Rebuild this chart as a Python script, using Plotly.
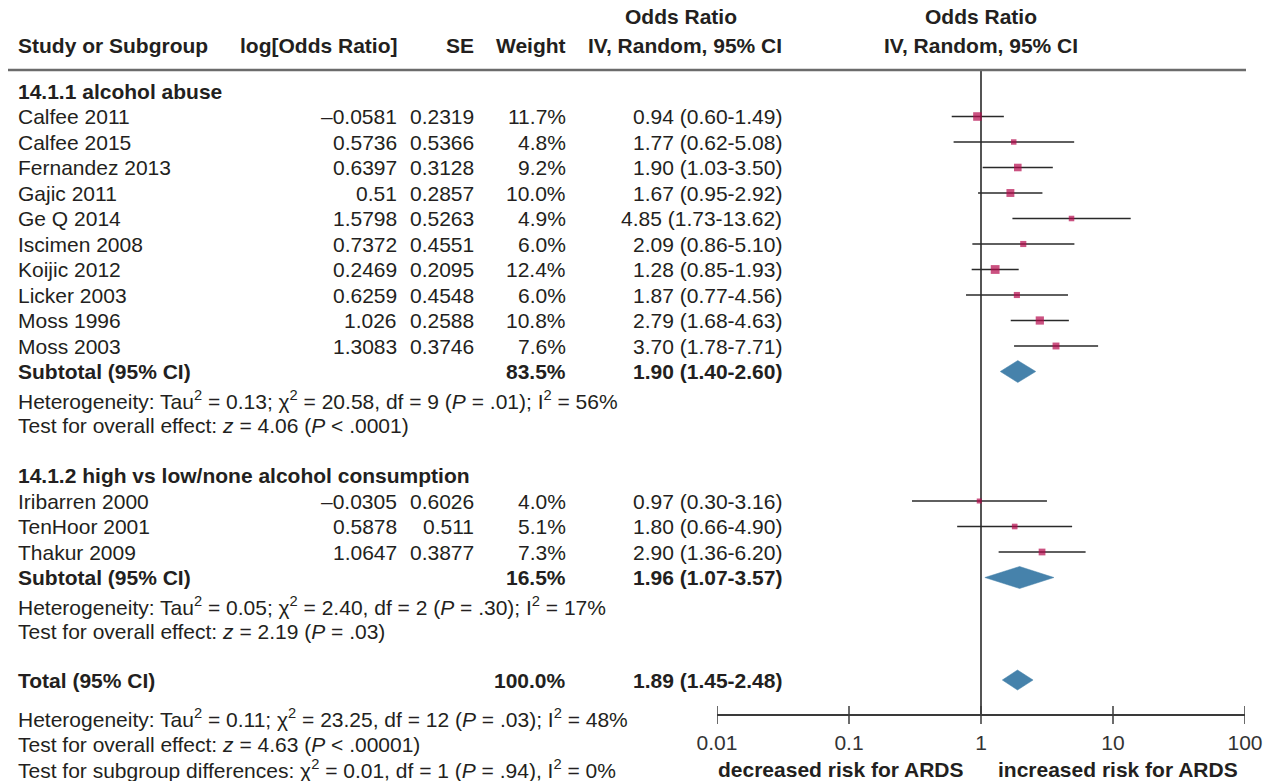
import plotly.graph_objects as go

W, H = 1264, 781

# ---------------- data ----------------
studies1 = ["Calfee 2011", "Calfee 2015", "Fernandez 2013", "Gajic 2011", "Ge Q 2014",
            "Iscimen 2008", "Koijic 2012", "Licker 2003", "Moss 1996", "Moss 2003"]
log_or1 = [-0.0581, 0.5736, 0.6397, 0.51, 1.5798, 0.7372, 0.2469, 0.6259, 1.026, 1.3083]
se1 = [0.2319, 0.5366, 0.3128, 0.2857, 0.5263, 0.4551, 0.2095, 0.4548, 0.2588, 0.3746]
weight1 = [11.7, 4.8, 9.2, 10.0, 4.9, 6.0, 12.4, 6.0, 10.8, 7.6]
or1 = [0.94, 1.77, 1.90, 1.67, 4.85, 2.09, 1.28, 1.87, 2.79, 3.70]
lo1 = [0.60, 0.62, 1.03, 0.95, 1.73, 0.86, 0.85, 0.77, 1.68, 1.78]
hi1 = [1.49, 5.08, 3.50, 2.92, 13.62, 5.10, 1.93, 4.56, 4.63, 7.71]
sub1 = dict(weight=83.5, est=1.90, lo=1.40, hi=2.60)

studies2 = ["Iribarren 2000", "TenHoor 2001", "Thakur 2009"]
log_or2 = [-0.0305, 0.5878, 1.0647]
se2 = [0.6026, 0.511, 0.3877]
weight2 = [4.0, 5.1, 7.3]
or2 = [0.97, 1.80, 2.90]
lo2 = [0.30, 0.66, 1.36]
hi2 = [3.16, 4.90, 6.20]
sub2 = dict(weight=16.5, est=1.96, lo=1.07, hi=3.57)

total = dict(weight=100.0, est=1.89, lo=1.45, hi=2.48)

tick_vals = [0.01, 0.1, 1, 10, 100]
tick_text = ["0.01", "0.1", "1", "10", "100"]

group1_title = "14.1.1 alcohol abuse"
group2_title = "14.1.2 high vs low/none alcohol consumption"
het1 = "Heterogeneity: Tau<sup>2</sup> = 0.13; χ<sup>2</sup> = 20.58, df = 9 (<i>P</i> = .01); I<sup>2</sup> = 56%"
eff1 = "Test for overall effect: <i>z</i> = 4.06 (<i>P</i> < .0001)"
het2 = "Heterogeneity: Tau<sup>2</sup> = 0.05; χ<sup>2</sup> = 2.40, df = 2 (<i>P</i> = .30); I<sup>2</sup> = 17%"
eff2 = "Test for overall effect: <i>z</i> = 2.19 (<i>P</i> = .03)"
het3 = "Heterogeneity: Tau<sup>2</sup> = 0.11; χ<sup>2</sup> = 23.25, df = 12 (<i>P</i> = .03); I<sup>2</sup> = 48%"
eff3 = "Test for overall effect: <i>z</i> = 4.63 (<i>P</i> < .00001)"
subg = "Test for subgroup differences: χ<sup>2</sup> = 0.01, df = 1 (<i>P</i> = .94), I<sup>2</sup> = 0%"

# ---------------- layout (pixel rows) ----------------
STEP = 25.5
y_hdr1 = 91
y_s1 = [116.5 + STEP * i for i in range(len(studies1))]
y_sub1 = 116.5 + STEP * len(studies1)
y_het1, y_eff1 = 400, 425.5
y_hdr2 = 475.5
y_s2 = [501 + STEP * i for i in range(len(studies2))]
y_sub2 = 501 + STEP * len(studies2)
y_het2, y_eff2 = 606, 631.5
y_tot = 680
y_het3, y_eff3, y_subg = 718, 744, 769
y_line_top = 70
y_axis = 715

FONT = "Liberation Sans, Arial, Helvetica, sans-serif"
FS = 21
TXT = "#231f20"
RED = "#b5094b"
BLUE = "#4682ab"

# column anchors (px)
X_NAME = 17
X_LOG = 398
X_SE = 475
X_W = 567
X_OR = 783


def fmt_num(v):
    return str(v).replace("-", "\u2013")


def fmt_ci(e, l, h):
    return "%.2f (%.2f-%.2f)" % (e, l, h)


ann = []


def text(x, y, s, anchor="left", bold=False, size=FS):
    if bold:
        s = "<b>" + s + "</b>"
    ann.append(dict(x=x / W, y=y, xref="paper", yref="y", text=s, showarrow=False,
                    xanchor=anchor, yanchor="middle", borderpad=0,
                    font=dict(family=FONT, size=size, color=TXT)))


# headers
text(681, 16, "Odds Ratio", "center", True)
text(981, 16, "Odds Ratio", "center", True)
text(X_NAME, 45, "Study or Subgroup", "left", True)
text(X_LOG, 45, "log[Odds Ratio]", "right", True)
text(X_SE, 45, "SE", "right", True)
text(X_W, 45, "Weight", "right", True)
text(X_OR, 45, "IV, Random, 95% CI", "right", True)
text(981, 45, "IV, Random, 95% CI", "center", True)

# group 1
text(X_NAME, y_hdr1, group1_title, "left", True)
for i, n in enumerate(studies1):
    y = y_s1[i]
    text(X_NAME, y, n)
    text(X_LOG, y, fmt_num(log_or1[i]), "right")
    text(X_SE, y, fmt_num(se1[i]), "right")
    text(X_W, y, "%.1f%%" % weight1[i], "right")
    text(X_OR, y, fmt_ci(or1[i], lo1[i], hi1[i]), "right")
text(X_NAME, y_sub1, "Subtotal (95% CI)", "left", True)
text(X_W, y_sub1, "%.1f%%" % sub1["weight"], "right", True)
text(X_OR, y_sub1, fmt_ci(sub1["est"], sub1["lo"], sub1["hi"]), "right", True)
text(X_NAME, y_het1, het1)
text(X_NAME, y_eff1, eff1)

# group 2
text(X_NAME, y_hdr2, group2_title, "left", True)
for i, n in enumerate(studies2):
    y = y_s2[i]
    text(X_NAME, y, n)
    text(X_LOG, y, fmt_num(log_or2[i]), "right")
    text(X_SE, y, fmt_num(se2[i]), "right")
    text(X_W, y, "%.1f%%" % weight2[i], "right")
    text(X_OR, y, fmt_ci(or2[i], lo2[i], hi2[i]), "right")
text(X_NAME, y_sub2, "Subtotal (95% CI)", "left", True)
text(X_W, y_sub2, "%.1f%%" % sub2["weight"], "right", True)
text(X_OR, y_sub2, fmt_ci(sub2["est"], sub2["lo"], sub2["hi"]), "right", True)
text(X_NAME, y_het2, het2)
text(X_NAME, y_eff2, eff2)

# total
text(X_NAME, y_tot, "Total (95% CI)", "left", True)
text(X_W, y_tot, "%.1f%%" % total["weight"], "right", True)
text(X_OR, y_tot, fmt_ci(total["est"], total["lo"], total["hi"]), "right", True)
text(X_NAME, y_het3, het3)
text(X_NAME, y_eff3, eff3)
text(X_NAME, y_subg, subg)

# axis side labels
text(965, 769, "decreased risk for ARDS", "right", True)
text(997, 769, "increased risk for ARDS", "left", True)

fig = go.Figure()

# vertical line of no effect
fig.add_trace(go.Scatter(x=[1, 1], y=[y_line_top, y_axis], mode="lines",
                         line=dict(color="#2a2a2a", width=1.6), hoverinfo="skip"))

# whiskers
wx, wy = [], []
for lo, hi, y in zip(lo1 + lo2, hi1 + hi2, y_s1 + y_s2):
    wx += [lo, hi, None]
    wy += [y, y, None]
fig.add_trace(go.Scatter(x=wx, y=wy, mode="lines",
                         line=dict(color="#2a2a2a", width=1.7), hoverinfo="skip"))

# squares
all_w = weight1 + weight2
fig.add_trace(go.Scatter(x=or1 + or2, y=y_s1 + y_s2, mode="markers",
                         marker=dict(symbol="square", color=RED,
                                     size=[2.5 * w ** 0.5 for w in all_w],
                                     line=dict(width=0)),
                         hoverinfo="skip"))

# diamonds
for d, y in ((sub1, y_sub1), (sub2, y_sub2), (total, y_tot)):
    h = 11 if d is not total else 10
    fig.add_trace(go.Scatter(x=[d["lo"], d["est"], d["hi"], d["est"], d["lo"]],
                             y=[y, y - h, y, y + h, y], mode="lines", fill="toself",
                             fillcolor=BLUE, line=dict(color=BLUE, width=0.5),
                             hoverinfo="skip"))

# tick marks crossing the axis line
fig.add_trace(go.Scatter(x=tick_vals, y=[y_axis] * len(tick_vals), mode="markers",
                         marker=dict(symbol="line-ns", size=13,
                                     line=dict(color="#3a3a3a", width=1.5)),
                         hoverinfo="skip"))

shapes = [dict(type="line", xref="paper", yref="y", x0=8 / W, x1=1246 / W,
               y0=y_line_top, y1=y_line_top, line=dict(color="#6b6b6b", width=2.5))]

fig.update_layout(
    width=W, height=H, margin=dict(l=0, r=0, t=0, b=0, autoexpand=False),
    paper_bgcolor="white", plot_bgcolor="white", showlegend=False,
    annotations=ann, shapes=shapes,
    xaxis=dict(type="log", range=[-2, 2], domain=[717 / W, 1245 / W],
               anchor="free", position=(H - y_axis) / H, automargin=False,
               showline=True, linecolor="#3a3a3a", linewidth=1.5,
               ticks="", tickvals=tick_vals, ticktext=tick_text,
               showgrid=False, zeroline=False, ticklabelstandoff=9,
               tickfont=dict(family=FONT, size=FS, color="#333333")),
    yaxis=dict(range=[H, 0], domain=[0, 1], visible=False, showgrid=False,
               zeroline=False, automargin=False),
)

fig.write_html("out.html", config={"displayModeBar": False},
               post_script="document.body.style.margin='0';")
